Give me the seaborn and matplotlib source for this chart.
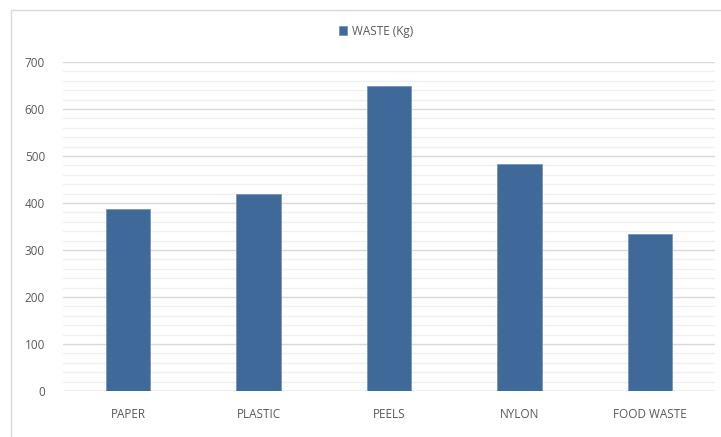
import matplotlib
matplotlib.use("Agg")
import matplotlib.pyplot as plt
import seaborn as sns
import pandas as pd
from matplotlib.ticker import MultipleLocator
from matplotlib.patches import Rectangle

categories = ["PAPER", "PLASTIC", "PEELS", "NYLON", "FOOD WASTE"]
waste_kg = [387, 419, 650, 484, 335]
series_name = "WASTE (Kg)"

df = pd.DataFrame({"category": categories, "waste": waste_kg})

sns.set_theme(style="white")
plt.rcParams["font.family"] = ["Open Sans", "DejaVu Sans"]

W, H = 721, 437
fig = plt.figure(figsize=(W / 100, H / 100), dpi=100)
ax = fig.add_axes([63 / W, 1 - 391 / H, (715 - 63) / W, (391 - 62) / H])

bar_color = "#3E6999"
sns.barplot(data=df, x="category", y="waste", color=bar_color, width=0.34,
            ax=ax, saturation=1, edgecolor="#6F8FBA", linewidth=0.5,
            label=series_name, zorder=3)

ax.set_ylim(0, 700)
ax.set_xlim(-0.5, len(categories) - 0.5)
ax.yaxis.set_major_locator(MultipleLocator(100))
ax.yaxis.set_minor_locator(MultipleLocator(20))
ax.grid(axis="y", which="major", color="#D9D9D9", linewidth=1.0, zorder=0)
ax.grid(axis="y", which="minor", color="#F0F0F0", linewidth=1.0, zorder=0)
ax.axhline(0, color="#D0D0D0", linewidth=1.0, zorder=2)
for s in ax.spines.values():
    s.set_visible(False)
ax.set_xlabel("")
ax.set_ylabel("")
ax.tick_params(axis="y", which="both", length=0, pad=13, labelsize=8.5, labelcolor="#595959")
ax.tick_params(axis="x", length=0, pad=12, labelsize=8.5, labelcolor="#595959")

leg = ax.legend(loc="center", bbox_to_anchor=(376 / W, 1 - 31 / H),
                bbox_transform=fig.transFigure, frameon=False, fontsize=8.5,
                handlelength=0.7, handleheight=0.7, handletextpad=0.4)
for t in leg.get_texts():
    t.set_color("#595959")

# chart area border
fig.patches.append(Rectangle((10.5 / W, -0.01), 1.0, 1 - 9.5 / H + 0.01,
                             transform=fig.transFigure, fill=False,
                             edgecolor="#D9D9D9", linewidth=1.0))

fig.savefig("out.png", dpi=100)
